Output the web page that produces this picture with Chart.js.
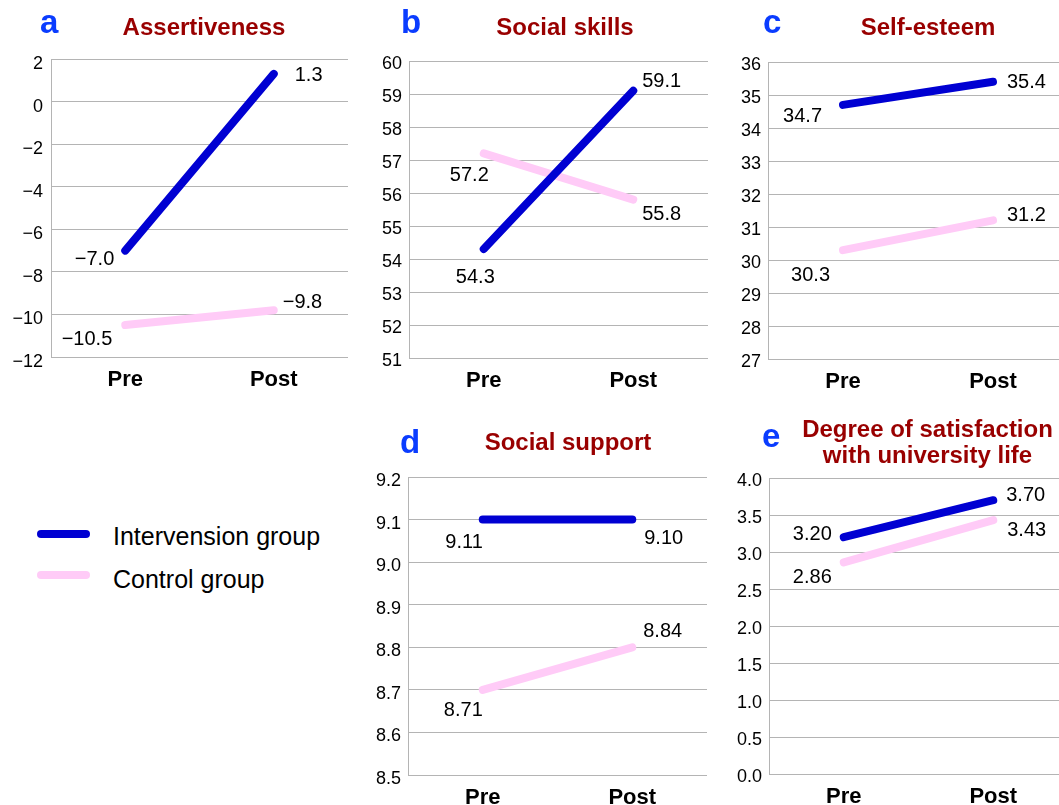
<!DOCTYPE html>
<html>
<head>
<meta charset="utf-8">
<script src="https://cdn.jsdelivr.net/npm/chart.js@4/dist/chart.umd.min.js"></script>
<style>
  html, body { margin:0; padding:0; background:#fff; overflow:hidden; width:1059px; height:805px; }
  body { position:relative; font-family:"Liberation Sans", Arial, Helvetica, sans-serif; }
  .cv { position:absolute; }
  .letter { position:absolute; color:#0a3cff; font-weight:bold; font-size:33px; line-height:33px; }
  .title { position:absolute; color:#990000; font-weight:bold; font-size:24px; line-height:26px; text-align:center; white-space:nowrap; }
  .leg { position:absolute; font-size:25px; color:#000; line-height:26px; white-space:nowrap; }
  .sw { position:absolute; height:8px; border-radius:4px; }
</style>
</head>
<body>
<script>
// ---------------- DATA ----------------
const categories = ['Pre', 'Post'];
const seriesNames = ['Intervension group', 'Control group'];

// a: Assertiveness
const assertIntervention = [-7.0, 1.3];
const assertControl = [-10.5, -9.8];
const assertInterventionText = ['\u22127.0', '1.3'];
const assertControlText = ['\u221210.5', '\u22129.8'];
const assertTicks = ['\u221212', '\u221210', '\u22128', '\u22126', '\u22124', '\u22122', '0', '2'];

// b: Social skills
const socialIntervention = [54.3, 59.1];
const socialControl = [57.2, 55.8];
const socialInterventionText = ['54.3', '59.1'];
const socialControlText = ['57.2', '55.8'];
const socialTicks = ['51', '52', '53', '54', '55', '56', '57', '58', '59', '60'];

// c: Self-esteem
const esteemIntervention = [34.7, 35.4];
const esteemControl = [30.3, 31.2];
const esteemInterventionText = ['34.7', '35.4'];
const esteemControlText = ['30.3', '31.2'];
const esteemTicks = ['27', '28', '29', '30', '31', '32', '33', '34', '35', '36'];

// d: Social support (lines drawn at these values in the original)
const supportIntervention = [9.10, 9.10];
const supportControl = [8.70, 8.80];
const supportInterventionText = ['9.11', '9.10'];
const supportControlText = ['8.71', '8.84'];
const supportTicks = ['8.5', '8.6', '8.7', '8.8', '8.9', '9.0', '9.1', '9.2'];

// e: Degree of satisfaction with university life
const satisfIntervention = [3.20, 3.70];
const satisfControl = [2.86, 3.43];
const satisfInterventionText = ['3.20', '3.70'];
const satisfControlText = ['2.86', '3.43'];
const satisfTicks = ['0.0', '0.5', '1.0', '1.5', '2.0', '2.5', '3.0', '3.5', '4.0'];

// ---------------- STYLE ----------------
const BLUE = '#0000d2';
const PINK = '#ffcbf7';
const GRID = '#b4b4b4';
const FONT = '"Liberation Sans", Arial, Helvetica, sans-serif';
const LABEL_SHIFT = 2;

const labelPlugin = {
  id: 'pointLabels',
  afterDatasetsDraw(chart, args, opts) {
    const ctx = chart.ctx;
    ctx.save();
    ctx.font = '20px ' + FONT;
    ctx.fillStyle = '#000';
    ctx.textBaseline = 'middle';
    chart.data.datasets.forEach((ds, i) => {
      const meta = chart.getDatasetMeta(i);
      meta.data.forEach((pt, j) => {
        const o = opts.offsets[i][j];
        ctx.textAlign = o[2];
        ctx.fillText(ds.texts[j], pt.x + o[0], pt.y + o[1] + LABEL_SHIFT);
      });
    });
    ctx.restore();
  }
};

function makePanel(p) {
  const padTop = 25, yW = 60, xH = 45;
  const cv = document.createElement('canvas');
  cv.className = 'cv';
  const w = p.rect[2] - p.rect[0] + yW;
  const h = p.rect[3] - p.rect[1] + padTop + xH;
  cv.style.left = (p.rect[0] - yW) + 'px';
  cv.style.top = (p.rect[1] - padTop) + 'px';
  cv.style.width = w + 'px';
  cv.style.height = h + 'px';
  cv.width = w; cv.height = h;
  document.body.appendChild(cv);
  new Chart(cv.getContext('2d'), {
    type: 'line',
    data: {
      labels: categories,
      datasets: [
        { label: seriesNames[0], data: p.inter, texts: p.interText, borderColor: BLUE, borderWidth: 8, borderCapStyle: 'round', pointRadius: 0, fill: false, tension: 0 },
        { label: seriesNames[1], data: p.ctrl, texts: p.ctrlText, borderColor: PINK, borderWidth: 8, borderCapStyle: 'round', pointRadius: 0, fill: false, tension: 0 }
      ]
    },
    options: {
      responsive: false,
      animation: false,
      devicePixelRatio: 1,
      layout: { padding: { top: padTop, left: 0, right: 0, bottom: 0 } },
      plugins: { legend: { display: false }, tooltip: { enabled: false }, pointLabels: { offsets: p.offsets } },
      scales: {
        x: {
          offset: true,
          grid: { display: false, drawTicks: false },
          border: { display: true, color: GRID, width: 1 },
          ticks: { color: '#000', font: { family: FONT, size: 22, weight: 'bold' }, padding: 10, maxRotation: 0 },
          afterFit: s => { s.height = xH; }
        },
        y: {
          min: p.min, max: p.max,
          ticks: { stepSize: p.step, color: '#000', font: { family: FONT, size: 18 }, padding: p.tickPad,
                   labelOffset: p.tickShift, callback: (v, i) => p.ticks[i] },
          grid: { color: GRID, lineWidth: 1, drawTicks: false },
          border: { display: true, color: GRID, width: 1 },
          afterFit: s => { s.width = yW; }
        }
      }
    },
    plugins: [labelPlugin]
  });
}

const panels = [
  { rect: [51, 59, 348, 357], min: -12, max: 2, step: 2, ticks: assertTicks, tickPad: 8, tickShift: 5,
    inter: assertIntervention, ctrl: assertControl, interText: assertInterventionText, ctrlText: assertControlText,
    offsets: [[[-11, 7, 'right'], [21, 0, 'left']], [[-13, 12, 'right'], [9, -10, 'left']]] },
  { rect: [409, 61, 708, 358], min: 51, max: 60, step: 1, ticks: socialTicks, tickPad: 7, tickShift: 3,
    inter: socialIntervention, ctrl: socialControl, interText: socialInterventionText, ctrlText: socialControlText,
    offsets: [[[11, 26, 'right'], [9, -11, 'left']], [[5, 20, 'right'], [9, 13, 'left']]] },
  { rect: [768, 62, 1068, 359], min: 27, max: 36, step: 1, ticks: esteemTicks, tickPad: 7, tickShift: 3,
    inter: esteemIntervention, ctrl: esteemControl, interText: esteemInterventionText, ctrlText: esteemControlText,
    offsets: [[[-21, 10, 'right'], [14, -1, 'left']], [[-13, 23, 'right'], [14, -7, 'left']]] },
  { rect: [408, 477, 707, 775], min: 8.5, max: 9.2, step: 0.1, ticks: supportTicks, tickPad: 7, tickShift: 4,
    inter: supportIntervention, ctrl: supportControl, interText: supportInterventionText, ctrlText: supportControlText,
    offsets: [[[0, 21, 'right'], [12, 17, 'left']], [[0, 19, 'right'], [11, -18, 'left']]] },
  { rect: [769, 478, 1068, 774], min: 0, max: 4, step: 0.5, ticks: satisfTicks, tickPad: 7, tickShift: 3,
    inter: satisfIntervention, ctrl: satisfControl, interText: satisfInterventionText, ctrlText: satisfControlText,
    offsets: [[[-12, -5, 'right'], [13, -7, 'left']], [[-12, 13, 'right'], [14, 8, 'left']]] }
];
panels.forEach(makePanel);
</script>

<div class="letter" style="left:40px; top:5px;">a</div>
<div class="title" style="left:64px; top:14px; width:280px;">Assertiveness</div>
<div class="letter" style="left:401px; top:5px;">b</div>
<div class="title" style="left:425px; top:14px; width:280px;">Social skills</div>
<div class="letter" style="left:763px; top:5px;">c</div>
<div class="title" style="left:788px; top:14px; width:280px;">Self-esteem</div>
<div class="letter" style="left:400px; top:425px;">d</div>
<div class="title" style="left:428px; top:429px; width:280px;">Social support</div>
<div class="letter" style="left:762px; top:419px;">e</div>
<div class="title" style="left:787px; top:416px; width:281px;">Degree of satisfaction<br>with university life</div>

<div class="sw" style="left:37px; top:530px; width:53px; background:#0000d2;"></div>
<div class="leg" style="left:113px; top:523px;">Intervension group</div>
<div class="sw" style="left:37px; top:571px; width:53px; background:#ffcbf7;"></div>
<div class="leg" style="left:113px; top:566px;">Control group</div>
</body>
</html>
